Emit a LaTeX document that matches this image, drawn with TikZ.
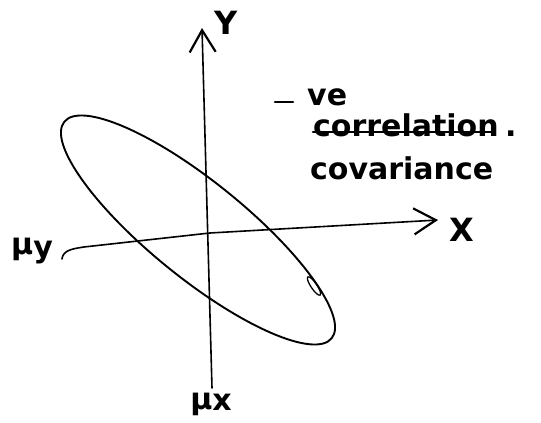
\documentclass[tikz,border=0pt]{standalone}
\usepackage{fontspec}
\setmainfont{DejaVu Sans}
\usetikzlibrary{arrows.meta}
\begin{document}
\begin{tikzpicture}[x=1pt,y=1pt,
  pen/.style={line width=1.9pt,line cap=round,line join=round},
  axis/.style={line width=1.6pt,line cap=round,line join=round,-{Straight Barb[length=22pt,width=26pt,line width=2.2pt]}},
  big/.style={font=\fontsize{30}{36}\selectfont\bfseries,inner sep=0pt},
  axlbl/.style={font=\fontsize{32}{36}\selectfont\bfseries,inner sep=0pt}]
\useasboundingbox (0,0) rectangle (541,423);
% ellipse of the data
\draw[pen] (198,193) ellipse [x radius=172, y radius=48, rotate=-39];
\draw[pen,line width=1.3pt] (314,137) ellipse [x radius=11, y radius=3, rotate=-56];
% Y axis
\coordinate (yb) at (212,35);
\coordinate (yt) at (202,395);
\draw[axis] (yb) -- (yt);
% X axis
\coordinate (xs) at (62,164);
\coordinate (x1) at (84,176);
\coordinate (x2) at (210,190);
\coordinate (xe) at (438,203);
\draw[axis] (xs) .. controls (63,172) and (70,174) .. (x1) -- (x2) -- (xe);
% labels
\node[axlbl] (Y) at (226,400) {Y};
\node[axlbl] (X) at (462,193) {X};
\node[font=\fontsize{30}{34}\selectfont\bfseries,inner sep=0pt] (muy) at (32,172) {μ\raisebox{-3pt}{y}};
\node[font=\fontsize{30}{34}\selectfont\bfseries,inner sep=0pt] (mux) at (211,19) {μ\raisebox{-1pt}{x}};
% notes
\coordinate (d1) at (275,321);
\coordinate (d2) at (293,321);
\draw[pen,line width=2.6pt] (d1) -- (d2);
\node[big,anchor=base west] (ve) at (307,317) {ve};
\node[big,anchor=base west] (corr) at (313,286) {correlation};
\node[big,anchor=base west] (dot) at (505,286) {.};
\coordinate (s1) at (313,291);
\coordinate (s2) at (492,291);
\draw[pen,line width=2.6pt] (s1) -- (s2);
\node[big,anchor=base west] (cov) at (310,243) {covariance};
\end{tikzpicture}
\end{document}
